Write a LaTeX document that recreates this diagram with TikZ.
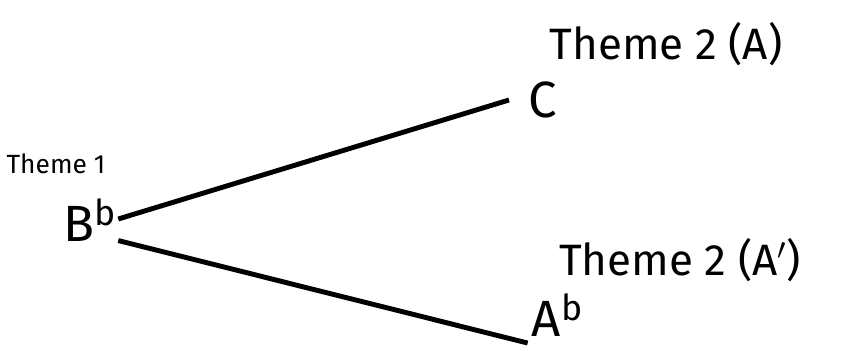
\documentclass[tikz,border=0pt]{standalone}
\usepackage{fontspec}
\setmainfont{Fira Sans}
\usetikzlibrary{calc}

\begin{document}
\begin{tikzpicture}[line width=2.8pt]
  \useasboundingbox (0,0) rectangle (17.12,7);
  \tikzset{theme/.style={font=\fontsize{25}{29}\selectfont, inner sep=0pt},
           tone/.style={font=\fontsize{29}{33}\selectfont, inner sep=1pt}}

  \node[theme, font=\fontsize{15}{18}\selectfont] (t1) at (1.12,3.72) {Theme 1};
  \node[tone] (Bb) at (1.8,2.6) {B$^{\mathrm{b}}$};

  \node[tone] (C) at (10.85,5.0) {C};
  \node[theme] (t2a) at (13.32,6.12) {Theme 2 (A)};

  \node[theme] (t2b) at (13.6,1.8) {Theme 2 (A$'$)};
  \node[tone] (Ab) at (11.15,0.7) {A$^{\mathrm{b}}$};

  % lines from theme 1
  \draw ($(Bb.east)+(-0.05,0.02)$) -- ($(C.west)+(-0.3,0)$);
  \draw ($(Bb.south east)+(-0.05,0.1)$) -- ($(Ab.south west)+(0.0,-0.05)$);
\end{tikzpicture}
\end{document}
